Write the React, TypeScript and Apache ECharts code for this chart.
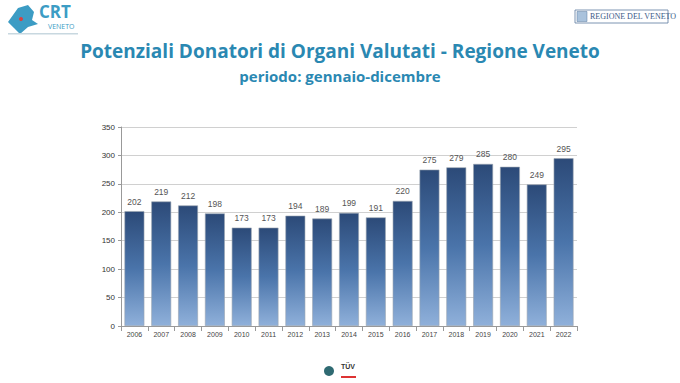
import React, { useEffect, useRef } from "react";
import * as echarts from "echarts";

const years = ["2006","2007","2008","2009","2010","2011","2012","2013","2014","2015","2016","2017","2018","2019","2020","2021","2022"];
const donors = [202,219,212,198,173,173,194,189,199,191,220,275,279,285,280,249,295];
const yTicks = { min: 0, max: 350, interval: 50 };

export default function App() {
  const ref = useRef<HTMLDivElement>(null);
  useEffect(() => {
    const chart = echarts.init(ref.current!, null, { renderer: "svg" });
    const teal = "#2a88b2";
    chart.setOption({
      animation: false,
      backgroundColor: "#ffffff",
      title: [
        {
          text: "Potenziali Donatori di Organi Valutati - Regione Veneto",
          left: "center",
          top: 36,
          textStyle: { fontFamily: "Open Sans", fontSize: 19, fontWeight: "bold", color: teal },
        },
        {
          text: "periodo: gennaio-dicembre",
          left: "center",
          top: 63,
          textStyle: { fontFamily: "Open Sans", fontSize: 15, fontWeight: "bold", color: teal },
        },
      ],
      grid: { left: 121, right: 103, top: 127, bottom: 57 },
      xAxis: {
        type: "category",
        data: years,
        axisLine: { lineStyle: { color: "#999" } },
        axisTick: { show: true, alignWithLabel: false, lineStyle: { color: "#999" } },
        axisLabel: { fontSize: 7, color: "#444", fontFamily: "Liberation Sans", margin: 5 },
      },
      yAxis: {
        type: "value",
        min: yTicks.min,
        max: yTicks.max,
        interval: yTicks.interval,
        axisLine: { show: true, lineStyle: { color: "#999" } },
        axisTick: { show: true, length: 3, lineStyle: { color: "#999" } },
        axisLabel: { fontSize: 8, color: "#333", fontFamily: "Liberation Sans", margin: 6 },
        splitLine: { lineStyle: { color: "#d0d0d0", width: 1 } },
      },
      series: [
        {
          type: "bar",
          data: donors,
          barCategoryGap: "26%",
          itemStyle: {
            color: new echarts.graphic.LinearGradient(0, 0, 0, 1, [
              { offset: 0, color: "#2c4a78" },
              { offset: 0.5, color: "#4a74aa" },
              { offset: 1, color: "#8fb0da" },
            ]),
            borderColor: "#9aa4b0",
            borderWidth: 0.6,
          },
          label: {
            show: true,
            position: "top",
            distance: 5,
            fontSize: 8.5,
            color: "#555",
            fontFamily: "Liberation Sans",
          },
        },
      ],
      graphic: [
        // CRT logo
        {
          type: "polygon",
          shape: { points: [[8, 22], [18, 8], [28, 5], [34, 12], [32, 20], [38, 24], [28, 27], [20, 34], [14, 28]] },
          style: { fill: "#3c9cc4" },
        },
        { type: "circle", shape: { cx: 21, cy: 19, r: 2 }, style: { fill: "#d94040" } },
        { type: "text", x: 39, y: 3, style: { text: "CRT", fontSize: 17, lineHeight: 17, verticalAlign: "top", fontWeight: "bold", fill: "#3c9cc4", fontFamily: "Open Sans" } },
        { type: "text", x: 48, y: 23, style: { text: "VENETO", fontSize: 7, lineHeight: 7, verticalAlign: "top", fill: "#3c9cc4", fontFamily: "Open Sans" } },
        { type: "rect", shape: { x: 8, y: 33, width: 70, height: 1.5 }, style: { fill: "#c8d8e0" } },
        // Regione del Veneto logo
        { type: "rect", shape: { x: 575, y: 10, width: 93, height: 13 }, style: { fill: "#fff", stroke: "#5a7aa0", lineWidth: 0.8 } },
        { type: "rect", shape: { x: 577, y: 11.5, width: 10, height: 10 }, style: { fill: "#a9c2dc", stroke: "#5a7aa0", lineWidth: 0.5 } },
        { type: "text", x: 590, y: 12, style: { text: "REGIONE DEL VENETO", fontSize: 8, fill: "#3a5a88", fontFamily: "Liberation Serif" } },
        // bottom logos
        { type: "circle", shape: { cx: 329, cy: 371, r: 5 }, style: { fill: "#2f6a72" } },
        { type: "text", x: 341, y: 363, style: { text: "TÜV", fontSize: 7, fontWeight: "bold", fill: "#333", fontFamily: "Liberation Sans" } },
        { type: "rect", shape: { x: 341, y: 376, width: 15, height: 2 }, style: { fill: "#d33" } },
      ],
    });
    return () => chart.dispose();
  }, []);
  return <div ref={ref} style={{ width: 680, height: 383, position: "absolute", left: 0, top: 0 }} />;
}
